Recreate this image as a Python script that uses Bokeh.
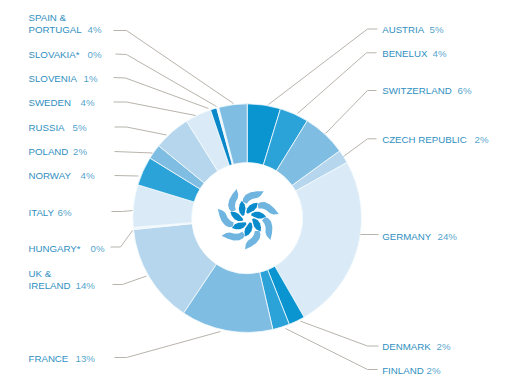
import math
from bokeh.plotting import figure
from bokeh.embed import file_html
from bokeh.resources import INLINE
from bokeh.core.properties import value

# Data (clockwise from 12 o'clock)
countries = ["AUSTRIA", "BENELUX", "SWITZERLAND", "CZECH REPUBLIC", "GERMANY", "DENMARK", "FINLAND",
             "FRANCE", "UK & IRELAND", "HUNGARY*", "ITALY", "NORWAY", "POLAND", "RUSSIA", "SWEDEN",
             "SLOVENIA", "SLOVAKIA*", "SPAIN & PORTUGAL"]
shares = [4.7, 4.1, 6.2, 1.9, 24.8, 2.3, 2.4, 13.0, 14.0, 0.3, 6.0, 4.1, 2.1, 5.2, 3.7, 0.9, 0.3, 4.0]
pct_labels = ["5%", "4%", "6%", "2%", "24%", "2%", "2%", "13%", "14%", "0%", "6%", "4%", "2%", "5%", "4%", "1%", "0%", "4%"]

# Styles and layout
DARK, MID, SOFT, PALE, LIGHT = "#0a94d0", "#2ba3d8", "#7fbde3", "#b5d6ec", "#daebf7"
colors = [DARK, MID, SOFT, PALE, LIGHT, DARK, MID, SOFT, PALE, "#f2f8fc", LIGHT, MID, SOFT, PALE, LIGHT,
          "#0a87c8", "#eef6fb", SOFT]
TEXT = "#2f8fbf"
LEADER = "#b8b4ac"
FONT = "Liberation Sans"
W, H = 519, 377
CX, CY, R_OUT, R_IN = 246.7, 217.6, 114.3, 55.5

def py(y):
    return H - y

name_x = {"l": 28, "r": 381.7}
# name lines (x side, [(text, page y)]), percentage x, percentage y
labels = [
    ("r", [("AUSTRIA", 29)], 429, 29),
    ("r", [("BENELUX", 53)], 432, 53),
    ("r", [("SWITZERLAND", 90)], 457, 90),
    ("r", [("CZECH REPUBLIC", 138.5)], 474, 138.5),
    ("r", [("GERMANY", 236)], 437, 236),
    ("r", [("DENMARK", 345.7)], 436, 345.7),
    ("r", [("FINLAND", 370)], 426, 370),
    ("l", [("FRANCE", 357.5)], 75, 357.5),
    ("l", [("UK &", 273), ("IRELAND", 285)], 75, 285),
    ("l", [("HUNGARY*", 248)], 90, 248),
    ("l", [("ITALY", 212)], 57, 212),
    ("l", [("NORWAY", 175)], 80, 175),
    ("l", [("POLAND", 151)], 72.5, 151),
    ("l", [("RUSSIA", 126.5)], 72, 126.5),
    ("l", [("SWEDEN", 102)], 80, 102),
    ("l", [("SLOVENIA", 77.5)], 83, 77.5),
    ("l", [("SLOVAKIA*", 53.5)], 87, 53.5),
    ("l", [("SPAIN &", 17), ("PORTUGAL", 29)], 87, 29),
]
leaders = [
    [(377, 28.5), (367, 28.5), (268, 104)],
    [(376, 52.3), (366, 52.3), (297, 113)],
    [(376, 90), (367, 90), (325, 133)],
    [(376, 138.3), (367, 138.3), (343, 156)],
    [(378, 234), (360, 234)],
    [(378, 345.5), (367, 345.5), (300, 320.7)],
    [(377, 369), (367, 369), (285, 328)],
    [(114, 357), (126, 357), (220, 331)],
    [(112, 284), (122, 284), (146, 275.5)],
    [(110, 246.5), (120, 246.5), (132, 230)],
    [(111, 211), (122, 211), (132, 210)],
    [(114, 175), (138, 175.5)],
    [(114, 151), (152, 152.5)],
    [(114, 126.5), (126, 126.5), (166, 134.5)],
    [(113, 101.5), (126, 101.5), (195, 115)],
    [(113, 77), (125, 77.5), (208, 108)],
    [(115, 53.5), (126, 54), (216, 106)],
    [(113, 30), (126, 30), (233, 103)],
]

p = figure(width=W, height=H, x_range=(0, W), y_range=(0, H), toolbar_location=None,
           output_backend="svg", min_border=0, outline_line_color=None, background_fill_color="white")
p.axis.visible = False
p.grid.visible = False

# Ring
total = sum(shares)
cum = 0.0
starts, ends = [], []
for s in shares:
    starts.append(math.pi / 2 - cum / total * 2 * math.pi)
    cum += s
    ends.append(math.pi / 2 - cum / total * 2 * math.pi)
p.annular_wedge(x=[CX] * len(shares), y=[py(CY)] * len(shares), inner_radius=R_IN, outer_radius=R_OUT,
                start_angle=starts, end_angle=ends, direction="clock", fill_color=colors,
                line_color="#f4fafd", line_width=0.8)

# Leaders
for pts in leaders:
    p.line([a for a, _ in pts], [py(b) for _, b in pts], line_color=LEADER, line_width=1)

# Labels
for side, lines, px_, py_ in labels:
    for t, y in lines:
        p.text(x=[name_x[side]], y=[py(y)], text=[t], text_font=value(FONT), text_font_size="9.7px",
               text_color=TEXT, text_align="left", text_baseline="middle")
for (side, lines, px_, py_), pct in zip(labels, pct_labels):
    p.text(x=[px_], y=[py(py_)], text=[pct], text_font=value(FONT), text_font_size="9.7px",
           text_color=TEXT, text_alpha=0.85, text_align="left", text_baseline="middle")

# Pinwheel logo (7 blades)
OUTER_BLADE = [(-5, -16.5), (-4.5, -20), (-2, -23.5), (3, -26), (9, -27), (16, -27), (13, -22.5), (10, -20.5), (5, -19.5), (1.5, -17.5), (-1, -14.5)]
INNER_BLADE = [(-1.5, -6), (-0.5, -10), (2, -13), (6, -15), (10, -15.5), (9, -11), (6.5, -8), (3, -6), (0, -4.5)]
LOGO_X, LOGO_Y = 247.2, 217.8
for k in range(7):
    a = k * 2 * math.pi / 7
    ca, sa = math.cos(a), math.sin(a)
    for blade, col in ((OUTER_BLADE, "#6fb5e0"), (INNER_BLADE, "#0a8ccc")):
        xs = [LOGO_X + u * ca - v * sa for u, v in blade]
        ys = [py(LOGO_Y + u * sa + v * ca) for u, v in blade]
        p.patch(xs, ys, fill_color=col, line_color=None)

open("out.html", "w").write(file_html(p, INLINE))
